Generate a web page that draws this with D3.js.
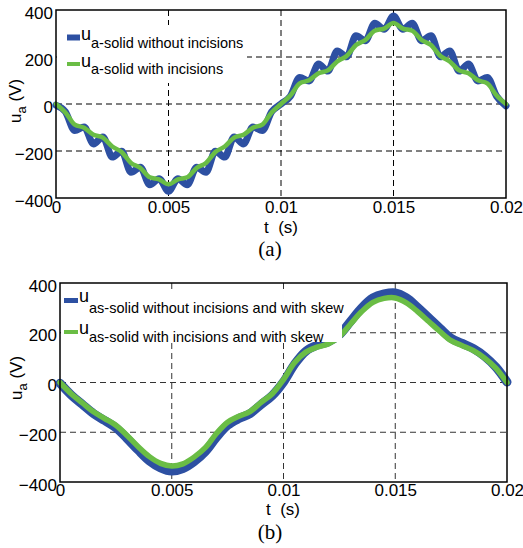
<!DOCTYPE html>
<html>
<head>
<meta charset="utf-8" />
<title>u_a waveforms</title>
<script src="https://d3js.org/d3.v7.min.js"></script>
<style>
  body { margin: 0; background: white; }
  text { font-family: "Liberation Sans", Arial, sans-serif; fill: black; }
  .caption { font-family: "Liberation Serif", "Times New Roman", serif; }
</style>
</head>
<body>
<svg id="viz"></svg>
<script>

// ---- data ----
// panel (a): samples at the ripple extrema (s)
var timeA = [0, 0.000417, 0.000833, 0.00125, 0.001667, 0.002083, 0.0025, 0.002917, 0.003333, 0.00375,
  0.004167, 0.004583, 0.005, 0.005417, 0.005833, 0.00625, 0.006667, 0.007083, 0.0075, 0.007917,
  0.008333, 0.00875, 0.009167, 0.009583, 0.01, 0.010417, 0.010833, 0.01125, 0.011667, 0.012083,
  0.0125, 0.012917, 0.013333, 0.01375, 0.014167, 0.014583, 0.015, 0.015417, 0.015833, 0.01625,
  0.016667, 0.017083, 0.0175, 0.017917, 0.018333, 0.01875, 0.019167, 0.019583, 0.02];
var solidNoIncisions = [-5, -33, -113, -98, -170, -140, -226, -201, -290, -269, -344, -318, -372, -318, -344, -269, -290, -201, -226, -140, -170, -98, -113, -33, 0,
  33, 113, 98, 170, 140, 226, 201, 290, 269, 344, 318, 374, 318, 344, 269, 290, 201, 226, 140, 170, 98, 113, 33, -8];
var solidIncisions = [0, -36, -88, -101, -131, -143, -181, -204, -251, -272, -312, -321, -342, -321, -312, -272, -251, -204, -181, -143, -131, -101, -88, -36, 0,
  36, 88, 101, 131, 143, 181, 204, 251, 272, 312, 321, 345, 321, 312, 272, 251, 204, 181, 143, 131, 101, 88, 36, 0];

// panel (b): skewed rotor, every 0.5 ms
var timeB = [0, 0.0005, 0.001, 0.0015, 0.002, 0.0025, 0.003, 0.0035, 0.004, 0.0045, 0.005,
  0.0055, 0.006, 0.0065, 0.007, 0.0075, 0.008, 0.0085, 0.009, 0.0095, 0.01,
  0.0105, 0.011, 0.0115, 0.012, 0.0125, 0.013, 0.0135, 0.014, 0.0145, 0.015,
  0.0155, 0.016, 0.0165, 0.017, 0.0175, 0.018, 0.0185, 0.019, 0.0195, 0.02];
var skewNoIncisions = [-3, -50, -88, -125, -153, -182, -225, -272, -315, -343, -356, -346, -318, -278, -220, -172, -145, -125, -88, -52, 2,
  74, 126, 150, 163, 192, 246, 300, 340, 356, 360, 340, 302, 260, 218, 178, 157, 136, 105, 62, 2];
var skewIncisions = [0, -45, -82, -118, -145, -172, -213, -258, -298, -325, -336, -327, -300, -262, -205, -160, -136, -117, -80, -45, 12,
  80, 122, 142, 155, 184, 235, 285, 322, 338, 340, 320, 285, 245, 205, 168, 148, 128, 98, 58, 0];

var xTicks = [0, 0.005, 0.01, 0.015, 0.02];
var xTickLabels = ["0", "0.005", "0.01", "0.015", "0.02"];
var yTicks = [-400, -200, 0, 200, 400];
var gridX = [0.005, 0.01, 0.015];
var gridY = [-200, 0, 200];
var legendA = ["a-solid without incisions", "a-solid with incisions"];
var legendB = ["as-solid without incisions and with skew", "as-solid with incisions and with skew"];

var blue = "#2d50a2", green = "#6abd45";

var svg = d3.select("#viz").attr("width", 523).attr("height", 548);

function drawPanel(p) {
  var g = svg.append("g");
  var x = d3.scaleLinear().domain([0, 0.02]).range([p.left, p.right]);
  var y = d3.scaleLinear().domain([-400, 400]).range([p.bottom, p.top]);

  // dashed grid
  g.selectAll(".gx").data(gridX).enter().append("line")
    .attr("x1", d => x(d)).attr("x2", d => x(d))
    .attr("y1", p.top).attr("y2", p.bottom)
    .attr("stroke", p.gridColor).attr("stroke-dasharray", "6,4");
  g.selectAll(".gy").data(gridY).enter().append("line")
    .attr("x1", p.left).attr("x2", p.right)
    .attr("y1", d => y(d)).attr("y2", d => y(d))
    .attr("stroke", p.gridColor).attr("stroke-dasharray", "6,4");

  // tick labels
  g.append("g").attr("transform", "translate(0," + p.bottom + ")")
    .call(d3.axisBottom(x).tickValues(xTicks).tickFormat((d, i) => xTickLabels[i]).tickSize(0).tickPadding(p.xPad))
    .call(a => a.select(".domain").remove())
    .attr("font-size", 17).attr("font-family", "Liberation Sans, Arial, sans-serif");
  g.append("g").attr("transform", "translate(" + p.left + ",0)")
    .call(d3.axisLeft(y).tickValues(yTicks).tickSize(0).tickPadding(3))
    .call(a => a.select(".domain").remove())
    .call(a => a.selectAll("text").attr("dy", "0.48em"))
    .attr("font-size", 17).attr("font-family", "Liberation Sans, Arial, sans-serif");

  // curves
  var line = d3.line().x((d, i) => x(p.time[i])).y(d => y(d)).curve(p.curve);
  g.append("path").datum(p.blueData).attr("d", line)
    .attr("fill", "none").attr("stroke", blue).attr("stroke-width", p.blueWidth)
    .attr("stroke-linejoin", "round").attr("stroke-linecap", "round");
  g.append("path").datum(p.greenData).attr("d", line)
    .attr("fill", "none").attr("stroke", green).attr("stroke-width", p.greenWidth)
    .attr("stroke-linejoin", "round").attr("stroke-linecap", "round");

  // legend
  var L = p.legend;
  g.append("rect").attr("x", L.x).attr("y", L.y).attr("width", L.w).attr("height", L.h).attr("fill", "white");
  [blue, green].forEach(function(c, i) {
    var e = L.entries[i];
    g.append("line").attr("x1", L.sx1).attr("x2", L.sx2).attr("y1", e.sy).attr("y2", e.sy)
      .attr("stroke", c).attr("stroke-width", e.sw);
    var t = g.append("text").attr("x", L.ux).attr("y", e.uy);
    t.append("tspan").attr("font-size", 18).text("u");
    t.append("tspan").attr("dy", e.suby - e.uy)
      .attr("font-size", L.subSize).text(p.labels[i]);
  });

  // frame
  g.append("rect").attr("x", p.left).attr("y", p.top)
    .attr("width", p.right - p.left).attr("height", p.bottom - p.top)
    .attr("fill", "none").attr("stroke", "black").attr("stroke-width", 1.5);

  // axis titles
  var yl = g.append("text").attr("transform", "translate(" + p.ylx + "," + p.yly + ") rotate(-90)")
    .attr("text-anchor", "middle").attr("font-size", 17);
  yl.append("tspan").text("u");
  yl.append("tspan").attr("dy", 5).attr("font-size", 13).text("a");
  yl.append("tspan").attr("dy", -5).text("\u00a0(V)");

  g.append("text").attr("x", p.xlx).attr("y", p.xly).attr("text-anchor", "middle")
    .attr("font-size", 17).text("t\u00a0\u00a0(s)");

  g.append("text").attr("class", "caption").attr("x", p.capx).attr("y", p.capy)
    .attr("text-anchor", "middle").attr("font-size", 21).text(p.caption);
}

drawPanel({
  left: 56, right: 506, top: 10, bottom: 198, gridColor: "#000", xPad: 3,
  time: timeA, blueData: solidNoIncisions, greenData: solidIncisions,
  curve: d3.curveMonotoneX, blueWidth: 7, greenWidth: 4.5,
  labels: legendA,
  legend: { x: 57, y: 25, w: 190, h: 58, sx1: 67, sx2: 80, ux: 81, subSize: 14.5,
    entries: [{ sy: 37.5, sw: 6, uy: 40, suby: 48 }, { sy: 64, sw: 4, uy: 67, suby: 74 }] },
  ylx: 21, yly: 101, xlx: 281, xly: 233, capx: 270, capy: 256, caption: "(a)"
});

drawPanel({
  left: 60, right: 507, top: 283, bottom: 482, gridColor: "#333", xPad: 2,
  time: timeB, blueData: skewNoIncisions, greenData: skewIncisions,
  curve: d3.curveCatmullRom, blueWidth: 9, greenWidth: 5.5,
  labels: legendB,
  legend: { x: 61, y: 290, w: 281, h: 52, sx1: 64, sx2: 78, ux: 79, subSize: 14.5,
    entries: [{ sy: 300.5, sw: 5, uy: 302, suby: 313 }, { sy: 332, sw: 4, uy: 334, suby: 342 }] },
  ylx: 22, yly: 378, xlx: 283, xly: 515, capx: 270, capy: 539, caption: "(b)"
});

</script>
</body>
</html>
